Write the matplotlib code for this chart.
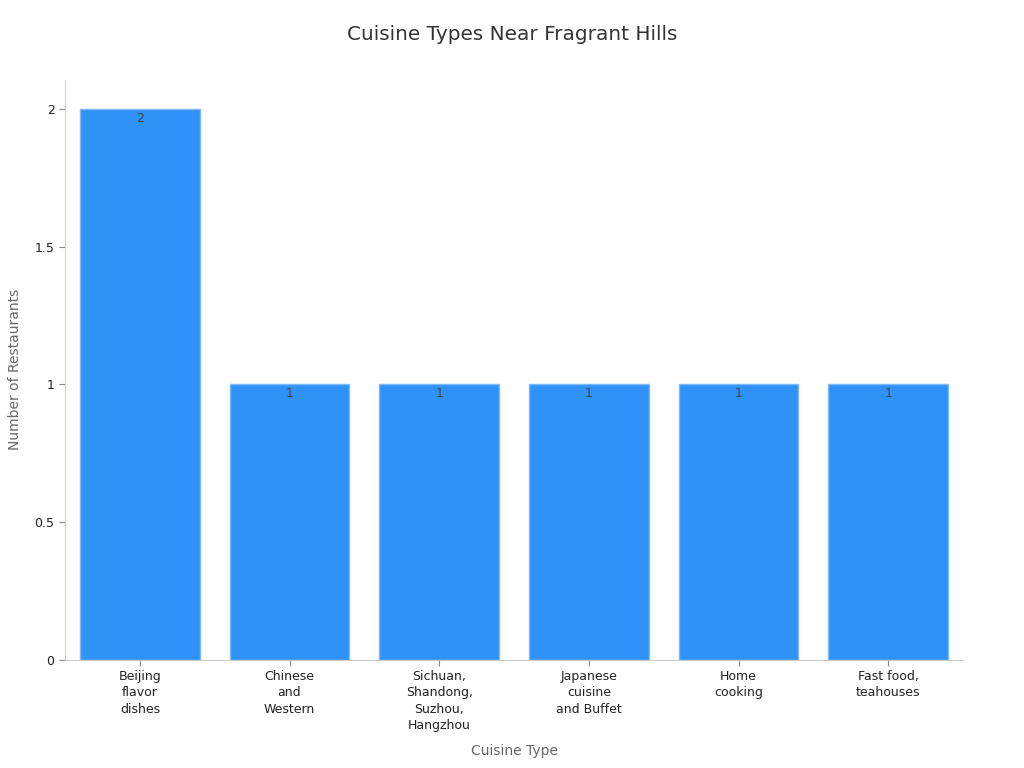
import matplotlib
matplotlib.use('Agg')
import matplotlib.pyplot as plt

cuisines = ['Beijing\nflavor\ndishes', 'Chinese\nand\nWestern', 'Sichuan,\nShandong,\nSuzhou,\nHangzhou',
            'Japanese\ncuisine\nand Buffet', 'Home\ncooking', 'Fast food,\nteahouses']
counts = [2, 1, 1, 1, 1, 1]

fig = plt.figure(figsize=(10.24, 7.68), dpi=100)
ax = fig.add_axes([0.0635, 0.141, 0.877, 0.755])

bars = ax.bar(range(len(cuisines)), counts, width=0.8, color='#2f92f9', edgecolor='#7fbaf5', linewidth=1)
for b, v in zip(bars, counts):
    ax.annotate(str(v), (b.get_x() + b.get_width() / 2, v), xytext=(0, -7), textcoords='offset points',
                ha='center', va='center', fontsize=9, color='#444444')

ax.set_xlim(-0.5, 5.5)
ax.set_ylim(0, 2.105)
ax.set_xticks(range(len(cuisines)))
ax.set_xticklabels(cuisines, fontsize=9, color='#222222', linespacing=1.32)
ax.set_yticks([0, 0.5, 1, 1.5, 2])
ax.set_yticklabels(['0', '0.5', '1', '1.5', '2'], fontsize=9, color='#222222')
ax.tick_params(colors='#888888', length=4)
for lab in ax.get_xticklabels() + ax.get_yticklabels():
    lab.set_color('#222222')

for s in ['top', 'right']:
    ax.spines[s].set_visible(False)
for s in ['left', 'bottom']:
    ax.spines[s].set_color('#cccccc')

ax.set_xlabel('Cuisine Type', fontsize=10, color='#666666', labelpad=9)
ax.set_ylabel('Number of Restaurants', fontsize=10, color='#666666', labelpad=9)
fig.suptitle('Cuisine Types Near Fragrant Hills', fontsize=14.4, color='#333333', y=0.968)

fig.savefig('out.png', dpi=100)
